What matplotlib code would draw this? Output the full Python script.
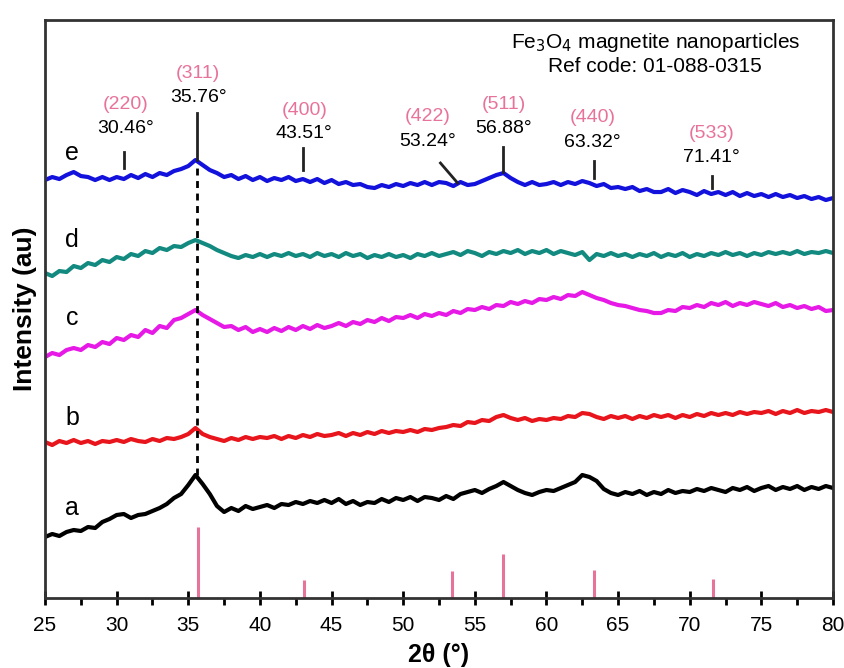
import numpy as np
import matplotlib
matplotlib.use("Agg")
import matplotlib.pyplot as plt

plt.rcParams['font.family'] = ['Liberation Sans', 'DejaVu Sans']

# 2theta grid (deg), one reading every 0.5 deg
two_theta = np.arange(25, 80.01, 0.5)

# intensities (offset traces, arbitrary units)
a_vals = [61, 64, 62, 66, 68, 67, 71, 70, 76, 79, 83, 84, 80, 83, 84, 87, 90, 94, 100, 104,
          113, 123, 114, 104, 92, 86, 90, 87, 92, 89, 91, 93, 90, 94, 93, 96, 94, 97, 95, 98,
          95, 99, 94, 97, 93, 96, 95, 99, 96, 100, 98, 101, 97, 101, 100, 98, 102, 99, 104, 106,
          108, 105, 109, 112, 116, 112, 108, 105, 103, 106, 108, 107, 110, 113, 116, 123, 121, 117, 109, 105,
          103, 106, 104, 107, 103, 106, 104, 108, 105, 107, 106, 109, 107, 110, 108, 106, 110, 108, 111, 107,
          110, 112, 108, 111, 109, 112, 108, 111, 109, 112, 110]
b_vals = [156, 153, 157, 155, 158, 155, 157, 154, 157, 156, 158, 156, 159, 157, 156, 159, 157, 160, 159, 161,
          164, 170, 164, 161, 159, 157, 160, 158, 161, 159, 161, 160, 162, 159, 162, 160, 163, 161, 164, 162,
          163, 165, 162, 165, 163, 166, 164, 167, 165, 167, 166, 168, 166, 169, 168, 170, 171, 173, 172, 176,
          175, 178, 177, 181, 183, 180, 178, 180, 177, 179, 178, 180, 179, 182, 181, 185, 184, 181, 179, 182,
          180, 182, 179, 182, 180, 183, 181, 183, 180, 183, 181, 184, 182, 185, 183, 185, 183, 186, 184, 186,
          185, 187, 184, 187, 185, 188, 185, 187, 186, 188, 186]
c_vals = [241, 245, 243, 248, 250, 248, 253, 251, 256, 254, 260, 258, 263, 261, 268, 265, 272, 270, 278, 280,
          284, 288, 283, 279, 275, 271, 272, 268, 271, 266, 269, 266, 270, 267, 271, 268, 272, 269, 273, 270,
          272, 275, 272, 276, 274, 278, 276, 280, 277, 281, 280, 283, 280, 284, 282, 285, 283, 287, 285, 289,
          288, 291, 289, 293, 292, 296, 294, 297, 295, 299, 298, 301, 299, 303, 302, 306, 303, 300, 298, 295,
          293, 292, 290, 288, 287, 285, 285, 288, 287, 291, 290, 293, 291, 295, 293, 296, 292, 295, 293, 296,
          294, 292, 295, 291, 293, 290, 292, 289, 291, 287, 288]
d_vals = [325, 322, 327, 326, 332, 330, 335, 333, 338, 336, 341, 339, 344, 342, 347, 345, 350, 348, 352, 351,
          355, 358, 355, 352, 348, 345, 342, 340, 343, 341, 344, 341, 344, 342, 345, 342, 344, 341, 345, 342,
          344, 341, 345, 342, 344, 340, 343, 341, 344, 341, 343, 340, 344, 342, 345, 342, 344, 346, 343, 347,
          345, 342, 346, 344, 347, 345, 348, 344, 347, 345, 348, 344, 347, 345, 343, 346, 338, 344, 342, 345,
          342, 344, 341, 344, 342, 345, 341, 344, 342, 345, 341, 344, 342, 345, 343, 346, 343, 345, 342, 345,
          343, 346, 344, 346, 344, 347, 344, 346, 345, 347, 345]
e_vals = [418, 421, 419, 423, 426, 422, 421, 418, 421, 418, 421, 419, 423, 420, 424, 421, 425, 423, 427, 429,
          432, 438, 433, 428, 425, 421, 423, 419, 422, 418, 421, 417, 420, 418, 421, 417, 419, 416, 419, 415,
          418, 414, 416, 413, 414, 411, 410, 413, 411, 414, 412, 415, 413, 416, 413, 416, 415, 412, 416, 413,
          414, 417, 420, 423, 425, 420, 416, 413, 416, 413, 414, 416, 413, 416, 414, 417, 415, 412, 414, 410,
          411, 409, 411, 407, 409, 406, 406, 409, 405, 408, 406, 403, 407, 404, 406, 403, 406, 402, 405, 402,
          404, 401, 404, 401, 403, 400, 402, 399, 401, 398, 400]

sample_names = ['a', 'b', 'c', 'd', 'e']
sample_colors = ['black', '#e8161c', '#e619e6', '#138a80', '#1212dc']
sample_label_y = [90, 180, 280, 358, 445]

# reference pattern Fe3O4, ref code 01-088-0315
ref_pos = [35.7, 43.1, 53.4, 57.0, 63.3, 71.6]
ref_height = [71, 18, 27, 44, 28, 19]

# peak annotations
hkl = ['(220)', '(311)', '(400)', '(422)', '(511)', '(440)', '(533)']
peak_text = ['30.46°', '35.76°', '43.51°', '53.24°', '56.88°', '63.32°', '71.41°']
label_x = [30.6, 35.7, 43.1, 51.7, 57.0, 63.2, 71.5]
hkl_y = [494, 525, 488, 482, 494, 481, 465]
ang_y = [470, 501, 465, 457, 470, 456, 441]
mark_x0 = [30.5, 35.6, 43.0, 52.6, 56.95, 63.35, 71.55]
mark_x1 = [30.5, 35.6, 43.0, 53.8, 56.95, 63.35, 71.55]
mark_y0 = [446, 485, 450, 435, 451, 437, 422]
mark_y1 = [430, 438, 428, 415, 426, 420, 410]

fig = plt.figure(figsize=(8.45, 6.68), dpi=100)
ax = fig.add_axes([0.0533, 0.1048, 0.9325, 0.8652])

series = [a_vals, b_vals, c_vals, d_vals, e_vals]
for vals, col in zip(series, sample_colors):
    ax.plot(two_theta, vals, color=col, lw=3)

for name, yy in zip(sample_names, sample_label_y):
    ax.text(26.9, yy, name, fontsize=18, ha='center', va='center')

# dashed line through (311)
ax.plot([35.6, 35.6], [123, 433], color='black', lw=2, ls=(0, (2.5, 2)))

ax.vlines(ref_pos, 0, ref_height, color='#e8739a', lw=2.2)

for i in range(len(hkl)):
    ax.plot([mark_x0[i], mark_x1[i]], [mark_y0[i], mark_y1[i]], color='#222222', lw=2)
    ax.text(label_x[i], hkl_y[i], hkl[i], color='#e8739a', fontsize=14, ha='center', va='center')
    ax.text(label_x[i], ang_y[i], peak_text[i], color='black', fontsize=14, ha='center', va='center')

ax.text(67.6, 556, 'Fe$_3$O$_4$ magnetite nanoparticles', fontsize=15, ha='center', va='center')
ax.text(67.6, 532, 'Ref code: 01-088-0315', fontsize=15, ha='center', va='center')

ax.set_xlim(25, 80)
ax.set_ylim(0, 578)
ax.set_xticks(np.arange(25, 81, 5))
ax.set_xticks(np.arange(27.5, 80, 5), minor=True)
ax.set_yticks([])
ax.tick_params(axis='x', which='major', direction='inout', length=10, width=2, labelsize=15, pad=8)
ax.tick_params(axis='x', which='minor', direction='out', length=5, width=2)
for s in ax.spines.values():
    s.set_linewidth(2)
    s.set_color('#333333')

ax.set_xlabel('2θ (°)', fontsize=18, fontweight='bold', labelpad=6)
ax.set_ylabel('Intensity (au)', fontsize=19, fontweight='bold', labelpad=6)

fig.savefig('out.png', dpi=100)
